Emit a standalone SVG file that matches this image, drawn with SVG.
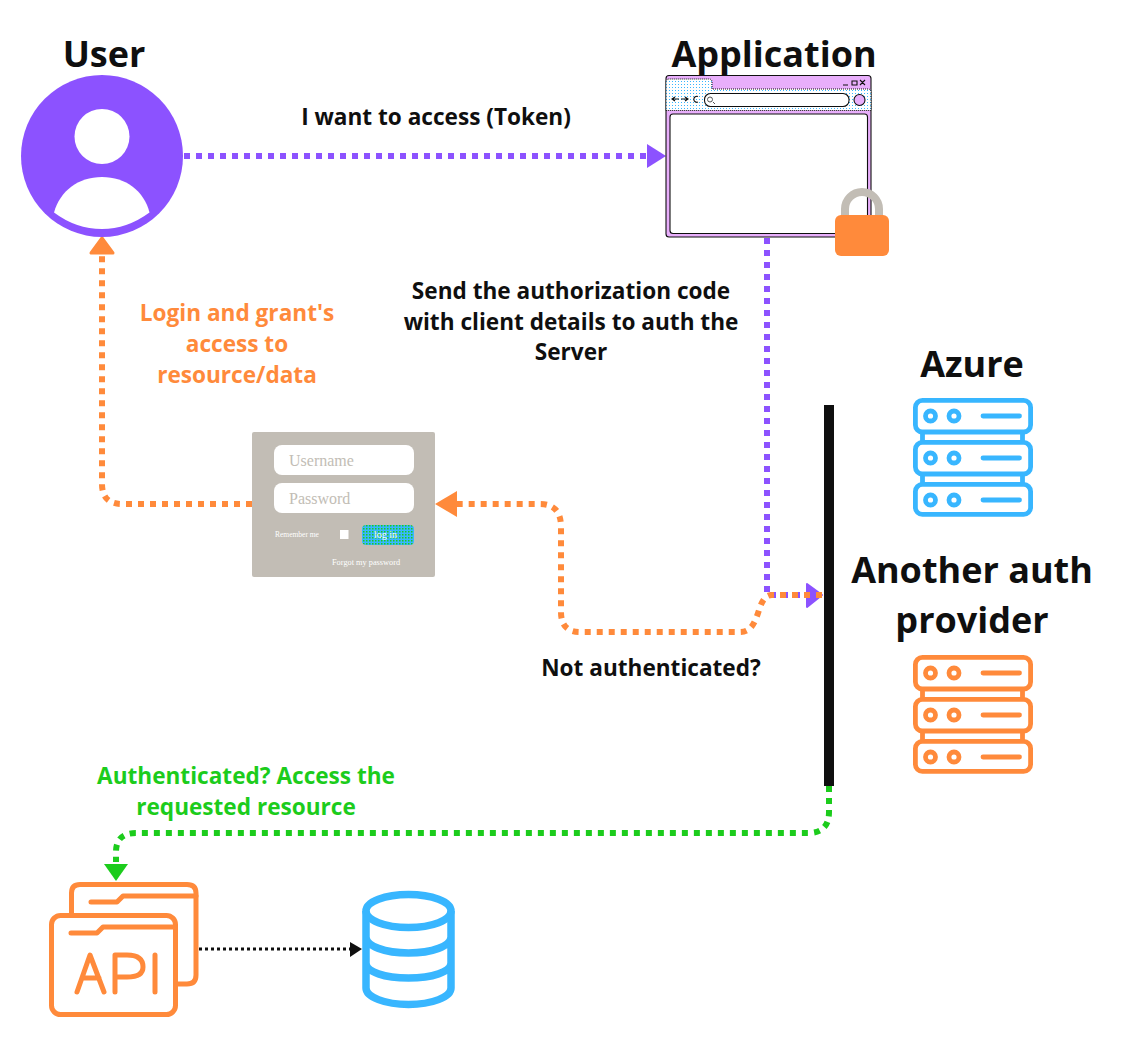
<svg xmlns="http://www.w3.org/2000/svg" width="1122" height="1049" viewBox="0 0 1122 1049">
<style>
text{font-family:"Open Sans","Noto Sans","DejaVu Sans",sans-serif;font-weight:700;text-anchor:middle;fill:#0f0f0f}
.h{font-size:36px}
.l{font-size:22.600px}
.o{fill:#ff8a3b}
.g{fill:#1ccc1c}
.c{fill:none;stroke-linecap:butt}
.d6{stroke-width:6;stroke-dasharray:6 6}
.ser{fill:none;stroke-width:4.800;stroke-linejoin:round}
.f{font-family:"Liberation Serif","DejaVu Serif",serif;font-weight:400;text-anchor:start}
</style>
<defs>
<pattern id="dots" width="3" height="3" patternUnits="userSpaceOnUse">
<rect width="3" height="3" fill="#fff"/>
<rect width="1" height="1" fill="#38b6ff"/>
</pattern>
<pattern id="btn" width="3" height="3" patternUnits="userSpaceOnUse">
<rect width="3" height="3" fill="#38b6ff"/>
<rect width="1.500" height="1.500" fill="#1ccc1c"/>
</pattern>
<g id="server">
<path d="M9.500 34V44M109.500 34V44M9.500 76V86"/>
<rect x="2.400" y="2.400" width="115.200" height="31.600" rx="7"/>
<rect x="2.400" y="44.400" width="115.200" height="31.600" rx="7"/>
<rect x="2.400" y="86.400" width="115.200" height="30" rx="7"/>
<path d="M109.500 76V86"/>
<circle cx="17.500" cy="18" r="5"/><circle cx="41" cy="18" r="5"/><path stroke-linecap="round" d="M70 18H106.500"/>
<circle cx="17.500" cy="60" r="5"/><circle cx="41" cy="60" r="5"/><path stroke-linecap="round" d="M70 60H106.500"/>
<circle cx="17.500" cy="102" r="5"/><circle cx="41" cy="102" r="5"/><path stroke-linecap="round" d="M70 102H106.500"/>
</g>
</defs>
<rect width="1122" height="1049" fill="#fff"/>
<g id="connectors">
<path class="c d6" stroke="#8c52ff" d="M184 156H650"/>
<path fill="#8c52ff" d="M647 144L666 156L647 168Z"/>
<path class="c d6" stroke="#8c52ff" d="M767 238V595H808"/>
<path fill="#8c52ff" stroke="#8c52ff" stroke-width="2" stroke-linejoin="round" d="M807 584L822 595L807 607Z"/>
<path class="c d6" stroke="#ff8a3b" d="M252 504H122Q102 504 102 484V252"/>
<path fill="#ff8a3b" stroke="#ff8a3b" stroke-width="3" stroke-linejoin="round" d="M102 238L91 253H113Z"/>
<path class="c d6" stroke="#ff8a3b" d="M834 595H772C755 595 762 632 740 632H580Q561 632 561 612V527Q561 504 540 504H450"/>
<path fill="#ff8a3b" d="M435 504L457 491V517Z"/>
<path class="c d6" stroke="#1ccc1c" d="M829 786V812Q829 833 808 833H136Q116 833 116 852V862"/>
<path fill="#1ccc1c" d="M104 864H128L116 881Z"/>
<path class="c" stroke="#0f0f0f" stroke-width="3" stroke-dasharray="3 3" d="M199 949H352"/>
<path fill="#0f0f0f" d="M350 942L362 949L350 957Z"/>
</g>
<g id="user">
<text class="h" x="104" y="67">User</text>
<circle cx="102" cy="156" r="81" fill="#8c52ff"/>
<circle cx="102" cy="136.500" r="27.500" fill="#fff"/>
<path fill="#fff" d="M54 212.500C60 191 78 177 102 177C126 177 144 191 149.500 212.500Q127 229 102 229Q76 229 54 212.500Z"/>
</g>
<g id="application">
<text class="h" x="774" y="67">Application</text>
<rect x="666" y="75.500" width="205" height="161.500" rx="3" fill="#e8aefb" stroke="#0f0f0f" stroke-width="1.100"/>
<path fill="url(#dots)" stroke="#0f0f0f" stroke-width="1" stroke-dasharray="1 1" d="M666 110.500V82Q666 79 669 79H709Q712 79 712 82V89H868Q871 89 871 92V110.500Z"/>
<rect x="704.500" y="93.500" width="144.500" height="13" rx="6" fill="#fff" stroke="#0f0f0f" stroke-width="1.100"/>
<circle cx="859.500" cy="100" r="5.500" fill="#e8aefb" stroke="#0f0f0f" stroke-width="1.100"/>
<path fill="none" stroke="#555" stroke-width="1" d="M713 102L715 104M712.500 99.500A2.500 2.500 0 1 1 707.500 99.500A2.500 2.500 0 1 1 712.500 99.500"/>
<path fill="none" stroke="#0f0f0f" stroke-width="1.100" d="M672 99H679M675 97L672 99L675 101M681 99H688M685 97L688 99L685 101M698 96.500A3 3 0 1 0 698 102M843 85H848M852 81H857V85H852ZM860 80L865 85M865 80L860 85"/>
<rect x="670" y="114" width="197.500" height="119.500" rx="3" fill="#fff" stroke="#0f0f0f" stroke-width="1.100"/>
<path fill="none" stroke="#c2bdb5" stroke-width="8" d="M845 218V209A17 17 0 0 1 879 209V218"/>
<rect x="835" y="215" width="54" height="41" rx="6" fill="#ff8a3b"/>
</g>
<g id="login">
<rect x="252" y="432" width="183" height="145" rx="2" fill="#c2bdb5"/>
<rect x="274" y="445" width="140" height="30" rx="8" fill="#fff"/>
<rect x="274" y="483" width="140" height="30" rx="8" fill="#fff"/>
<text class="f" x="289" y="466" font-size="16" style="fill:#c2bdb5">Username</text>
<text class="f" x="289" y="504" font-size="16" style="fill:#c2bdb5">Password</text>
<text class="f" x="275" y="537" font-size="7.500" style="fill:#fff">Remember me</text>
<rect x="340" y="530" width="8.500" height="9" fill="#fff"/>
<rect x="362" y="525" width="52" height="20" rx="4" fill="url(#btn)"/>
<text class="f" x="374" y="538" font-size="10" style="fill:#fff">log in</text>
<text class="f" x="332" y="565" font-size="8.300" style="fill:#fff">Forgot my password</text>
</g>
<g id="azure">
<text class="h" x="972" y="377">Azure</text>
<use href="#server" x="913" y="398" stroke="#38b6ff" class="ser"/>
</g>
<g id="auth-provider">
<text class="h" x="972" y="583">Another auth</text>
<text class="h" x="972" y="633">provider</text>
<use href="#server" x="913" y="655" stroke="#ff8a3b" class="ser"/>
</g>
<g id="gateway"><rect x="824" y="405" width="10" height="381" fill="#0f0f0f"/></g>
<g id="api" fill="none" stroke="#ff8a3b" stroke-width="5" stroke-linecap="round" stroke-linejoin="round">
<path d="M71.500 913V893Q71.500 884.500 80 884.500H187Q196 884.500 196 893V975Q196 984 187 984H178"/>
<path d="M91 902H117L123 896H196"/>
<rect x="51.500" y="915.500" width="124" height="99" rx="9"/>
<path d="M71 933H97L103 927H175"/>
<path d="M77 992L90 955L104 992M82 978H99M115 992V955H127Q143 955 143 967Q143 977 127 977H115M155 955V992"/>
</g>
<g id="database" fill="none" stroke="#38b6ff" stroke-width="7.500">
<ellipse cx="408.500" cy="911" rx="42.500" ry="16.500"/>
<path d="M366 911V988C366 997 385 1004.500 408.500 1004.500S451 997 451 988V911M366 937C366 946 385 953 408.500 953S451 946 451 937M366 963C366 972 385 978 408.500 978S451 972 451 963"/>
</g>
<g id="labels">
<text class="l" x="436" y="124.500">I want to access (Token)</text>
<text class="l" x="571" y="298.500">Send the authorization code</text>
<text class="l" x="571" y="329.500">with client details to auth the</text>
<text class="l" x="571" y="359.500">Server</text>
<text class="l o" x="237" y="320.500">Login and grant's</text>
<text class="l o" x="237" y="351.500">access to</text>
<text class="l o" x="237" y="382.500">resource/data</text>
<text class="l" x="651" y="675.500">Not authenticated?</text>
<text class="l g" x="246" y="783.500">Authenticated? Access the</text>
<text class="l g" x="246" y="814.500">requested resource</text>
</g>
</svg>
